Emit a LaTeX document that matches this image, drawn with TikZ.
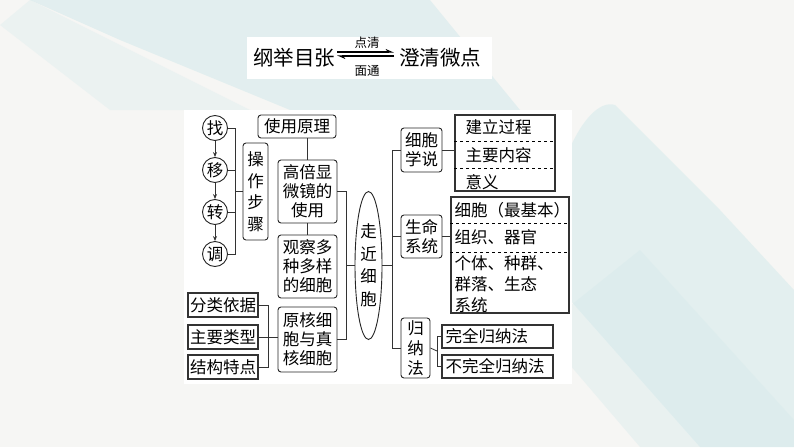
\documentclass[tikz,border=0pt]{standalone}
\usepackage{fontspec}
\setmainfont{Noto Sans CJK SC}
\usetikzlibrary{arrows.meta,shapes.geometric}

\definecolor{bgcol}{HTML}{F6F6F4}
\definecolor{tealbg}{HTML}{D2E9EB}

\begin{document}
\begin{tikzpicture}[x=1pt, y=-1pt,
    font=\fontsize{16.5}{19}\selectfont,
    rbox/.style={draw=black!85, line width=0.9pt, rectangle, rounded corners=3pt, inner sep=1pt, align=center},
    sbox/.style={draw=black!80, line width=1.3pt, rectangle, inner sep=1pt},
    circ/.style={draw=black!85, line width=0.9pt, circle, minimum size=25pt, inner sep=0pt},
    link/.style={draw=black!80, line width=0.8pt},
    arrow/.style={-{Stealth[length=5pt,width=4pt]}, line width=0.8pt, black!80}
]

% Background
\useasboundingbox (0,0) rectangle (794,447);
\fill[bgcol] (0,0) rectangle (794,447);
\fill[tealbg, opacity=0.55] (30,0) -- (430,0) -- (520,110) -- (290,110) -- (120,40) -- cycle;
\fill[tealbg, opacity=0.3] (0,25) -- (30,0) -- (250,110) -- (110,110) -- cycle;
\fill[tealbg, opacity=0.5] (565,160) .. controls (580,120) and (600,100) .. (615,105) -- (720,210) -- (794,290) -- (794,447) -- (700,447) -- (570,300) -- cycle;
\fill[tealbg, opacity=0.35] (540,330) -- (640,250) -- (794,420) -- (794,447) -- (640,447) -- cycle;
\fill[white] (247,37) rectangle (492,79);
\fill[white] (184,110) rectangle (572,384);

% Title
\node[font=\fontsize{20.5}{24}\selectfont] (head) at (294,58) {纲举目张};
\node[font=\fontsize{20.5}{24}\selectfont] (tail) at (440,58) {澄清微点};
\node[font=\fontsize{12.5}{14}\selectfont] (up) at (367,43) {点清};
\node[font=\fontsize{12.5}{14}\selectfont] (down) at (367,71) {面通};
\coordinate (aL) at (337,52);
\coordinate (aR) at (394,52);
\coordinate (bL) at (337,56);
\coordinate (bR) at (394,56);
\draw[-{Stealth[harpoon, length=7pt, width=6pt]}, line width=1.2pt] (aL) -- (aR);
\draw[-{Stealth[harpoon, length=7pt, width=6pt]}, line width=1.2pt] (bR) -- (bL);

% Steps
\node[circ] (zhao) at (215,128) {找};
\node[circ] (yi)   at (215,170) {移};
\node[circ] (zhuan) at (215,212) {转};
\node[circ] (tiao) at (215,254) {调};
\node[rbox, minimum width=25pt, minimum height=97pt, text width=17pt, font=\fontsize{16.5}{21.5}\selectfont] (steps) at (255.5,191.5) {操\\作\\步\\骤};

% Microscope
\node[rbox, minimum width=78pt, minimum height=23pt] (use) at (297,126.5) {使用原理};
\node[rbox, minimum width=59pt, minimum height=63pt, text width=52pt] (hp)  at (307.5,191.5) {高倍显\\微镜的\\使用};
\node[rbox, minimum width=59pt, minimum height=63pt, text width=52pt] (obs) at (307.5,266.5) {观察多\\种多样\\的细胞};
\node[rbox, minimum width=59pt, minimum height=65pt, text width=52pt] (pro) at (307.5,339.5) {原核细\\胞与真\\核细胞};

% Classification
\node[sbox, minimum width=70pt, minimum height=24pt] (basis) at (223,305) {分类依据};
\node[sbox, minimum width=70pt, minimum height=24pt] (kinds) at (223,337) {主要类型};
\node[sbox, minimum width=70pt, minimum height=24pt] (traits) at (223,367) {结构特点};

% Centre
\node[ellipse, draw=black!85, line width=0.9pt, minimum width=27pt, minimum height=148pt, inner sep=0pt, align=center, font=\fontsize{16.5}{22.5}\selectfont] (cell) at (368.5,265.5) {走\\近\\细\\胞};

% Right branches
\node[rbox, minimum width=41pt, minimum height=44pt] (theory) at (421.5,150) {细胞\\学说};
\node[rbox, minimum width=41pt, minimum height=43pt] (life) at (421.5,236.5) {生命\\系统};
\node[rbox, minimum width=29pt, minimum height=60pt, font=\fontsize{16.5}{20}\selectfont] (induct) at (415.5,348) {归\\纳\\法};

% Tables
\node[sbox, minimum width=100pt, minimum height=76pt] (tab1) at (505,153) {};
\node[anchor=west] (t1a) at (462,127) {建立过程};
\node[anchor=west] (t1b) at (462,155) {主要内容};
\node[anchor=west] (t1c) at (462,182) {意义};
\draw[dashed, line width=0.7pt] (tab1.west |- 0,141) -- (tab1.east |- 0,141);
\draw[dashed, line width=0.7pt] (tab1.west |- 0,168) -- (tab1.east |- 0,168);

\node[sbox, minimum width=118pt, minimum height=116pt] (tab2) at (510,255) {};
\node[anchor=west] (t2a) at (451,210) {细胞（最基本）};
\node[anchor=west] (t2b) at (451,237) {组织、器官};
\node[anchor=west, align=left, font=\fontsize{16.5}{21}\selectfont] (t2c) at (451,284) {个体、种群、\\群落、生态\\系统};
\draw[dashed, line width=0.7pt] (tab2.west |- 0,223) -- (tab2.east |- 0,223);
\draw[dashed, line width=0.7pt] (tab2.west |- 0,252) -- (tab2.east |- 0,252);

\node[sbox, minimum width=111pt, minimum height=23pt, text width=104pt] (whole) at (497.5,336.5) {完全归纳法};
\node[sbox, minimum width=111pt, minimum height=23pt, text width=104pt] (part) at (497.5,366.5) {不完全归纳法};

% Spines
\coordinate (spC) at (235,191.5);
\coordinate (spK) at (268,337);
\coordinate (spL) at (346,265.5);
\coordinate (spR) at (392,265.5);
\coordinate (spI) at (437,351);

% Connectors
\draw[arrow] (zhao) -- (yi);
\draw[arrow] (yi) -- (zhuan);
\draw[arrow] (zhuan) -- (tiao);
\draw[link] (zhao.east) -| (spC);
\draw[link] (yi.east) -| (spC);
\draw[link] (zhuan.east) -| (spC);
\draw[link] (tiao.east) -| (spC);
\draw[link] (spC) -- (steps.west);

\draw[link] (hp.north) -- (hp.north |- use.south);
\draw[link] (hp.south) -- (obs.north);

\draw[link] (basis.east) -| (spK);
\draw[link] (traits.east) -| (spK);
\draw[link] (kinds.east) -- (kinds.east -| pro.west);

\draw[link] (hp.east) -| (spL);
\draw[link] (pro.east) -| (spL);
\draw[link] (spL) -- (cell.west);

\draw[link] (cell.east) -- (spR);
\draw[link] (spR) |- (theory.west);
\draw[link] (spR) |- (life.west);
\draw[link] (spR) |- (induct.west);

\draw[link] (theory.east) -- (theory.east -| tab1.west);
\draw[link] (life.east) -- (life.east -| tab2.west);
\draw[link] (induct.east) -- (spI);
\draw[link] (spI) |- (whole.west);
\draw[link] (spI) |- (part.west);

\end{tikzpicture}
\end{document}
